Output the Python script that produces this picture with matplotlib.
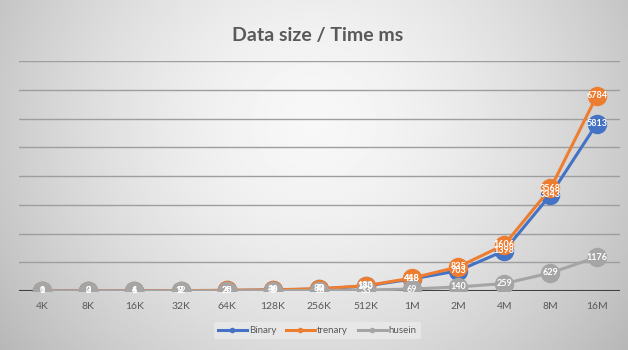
import numpy as np
import matplotlib.pyplot as plt
from matplotlib.lines import Line2D

# data
sizes = ['4K', '8K', '16K', '32K', '64K', '128K', '256K', '512K', '1M', '2M', '4M', '8M', '16M']
binary = [1, 2, 4, 9, 20, 36, 70, 170, 418, 703, 1398, 3343, 5813]
trenary = [1, 3, 6, 12, 25, 40, 80, 183, 448, 835, 1606, 3568, 6784]
husein = [0, 0, 1, 2, 4, 8, 16, 33, 69, 140, 259, 629, 1176]

series = [('Binary', binary, '#4472C4'),
          ('trenary', trenary, '#ED7D31'),
          ('husein', husein, '#A5A5A5')]

plt.rcParams['font.family'] = ['Lato', 'DejaVu Sans']

fig = plt.figure(figsize=(6.28, 3.5), dpi=100)

# gray radial-ish background
bg = fig.add_axes([0, 0, 1, 1], zorder=-10)
xx, yy = np.meshgrid(np.linspace(-1, 1, 300), np.linspace(-1, 1, 200))
d = np.sqrt((xx * 0.95) ** 2 + ((yy + 0.3) * 0.55) ** 2)
val = 0.97 - 0.19 * np.clip(d, 0, 1.3) ** 1.6
bg.imshow(val, cmap='gray', vmin=0, vmax=1, aspect='auto', extent=[0, 1, 0, 1])
bg.axis('off')

ax = fig.add_axes([0.030, 0.1686, 0.957, 0.657])
ax.patch.set_alpha(0)
x = np.arange(len(sizes))

for name, vals, col in series:
    ax.plot(x, vals, color=col, lw=2.2, marker='o', markersize=14,
            markeredgewidth=0, label=name, zorder=3)
    for xi, v in zip(x, vals):
        ax.text(xi, v, str(v), color='white', fontsize=6.5, fontweight='bold',
                ha='center', va='center', zorder=4)

ax.set_xlim(-0.5, len(sizes) - 0.5)
ax.set_ylim(0, 8000)
ax.set_yticks(np.arange(1000, 8001, 1000))
ax.yaxis.grid(True, color='#9e9e9e', lw=1)
ax.set_axisbelow(True)
ax.tick_params(axis='y', left=False, labelleft=False)
ax.axhline(0, color='#404040', lw=1.5, zorder=2)
for s in ax.spines.values():
    s.set_visible(False)
ax.set_xticks(x)
ax.set_xticklabels(sizes, fontsize=7.5, color='#595959')
ax.tick_params(axis='x', length=0, pad=8)

fig.text(0.505, 0.90, 'Data size / Time ms', ha='center', va='center',
         fontsize=14, fontweight='bold', color='#595959')

handles = [Line2D([0], [0], color=c, lw=2.2, marker='o', markersize=4,
                  markeredgewidth=0) for _, _, c in series]
leg = fig.legend(handles, [n for n, _, _ in series], loc='center',
                 bbox_to_anchor=(0.505, 0.055), ncol=3, frameon=True,
                 fontsize=7, handlelength=3, columnspacing=1.0,
                 handletextpad=0.2, labelcolor='#595959')
leg.get_frame().set_facecolor('#ececec')
leg.get_frame().set_edgecolor('none')
leg.get_frame().set_alpha(0.7)

fig.savefig('out.png', dpi=100)
